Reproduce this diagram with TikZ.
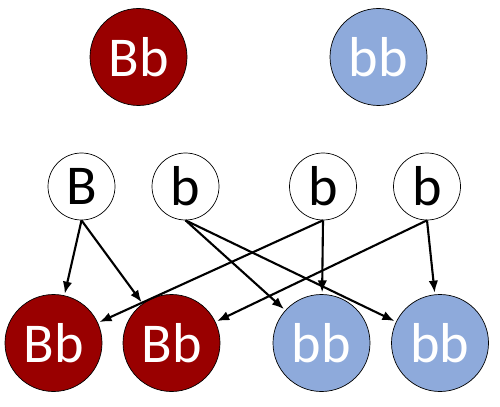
\documentclass[tikz,border=0pt]{standalone}
\usepackage{fontspec}
\setmainfont{Carlito}
\usetikzlibrary{arrows.meta}
\definecolor{allelered}{RGB}{153, 0, 0}
\definecolor{alleleblue}{RGB}{142, 170, 219}
\tikzset{
    bigcell/.style={circle, draw=black, thin, minimum size=1.94cm, inner sep=0pt, text=white, font=\fontsize{32}{34}\selectfont},
    gamete/.style={circle, draw=black, thin, fill=white, minimum size=1.34cm, inner sep=0pt, font=\fontsize{32}{34}\selectfont},
    cross/.style={-{Latex[length=2.4mm, width=1.9mm]}, line width=1.2pt, shorten >=1pt}
}

\begin{document}
\begin{tikzpicture}
    \useasboundingbox (0,0) rectangle (10,-8.12);

    % Parents
    \node[bigcell, fill=allelered] (parentBb) at (2.77,-1.14) {Bb};
    \node[bigcell, fill=alleleblue] (parentbb) at (7.57,-1.14) {bb};

    % Gametes
    \node[gamete] (gB) at (1.63,-3.73) {B};
    \node[gamete] (gb) at (3.71,-3.73) {b};
    \node[gamete] (gbb) at (6.46,-3.73) {b};
    \node[gamete] (gbbb) at (8.54,-3.73) {b};

    % Offspring
    \node[bigcell, fill=allelered] (kidBb) at (1.07,-6.86) {Bb};
    \node[bigcell, fill=allelered] (kidBbb) at (3.43,-6.86) {Bb};
    \node[bigcell, fill=alleleblue] (kidbb) at (6.43,-6.86) {bb};
    \node[bigcell, fill=alleleblue] (kidbbb) at (8.80,-6.86) {bb};

    % Crosses
    \draw[cross] (gB.south) -- (kidBb);
    \draw[cross] (gB.south) -- (kidBbb);
    \draw[cross] (gb.south) -- (kidbb);
    \draw[cross] (gb.south) -- (kidbbb);
    \draw[cross] (gbb.south) -- (kidBb);
    \draw[cross] (gbb.south) -- (kidbb);
    \draw[cross] (gbbb.south) -- (kidBbb);
    \draw[cross] (gbbb.south) -- (kidbbb);
\end{tikzpicture}
\end{document}
